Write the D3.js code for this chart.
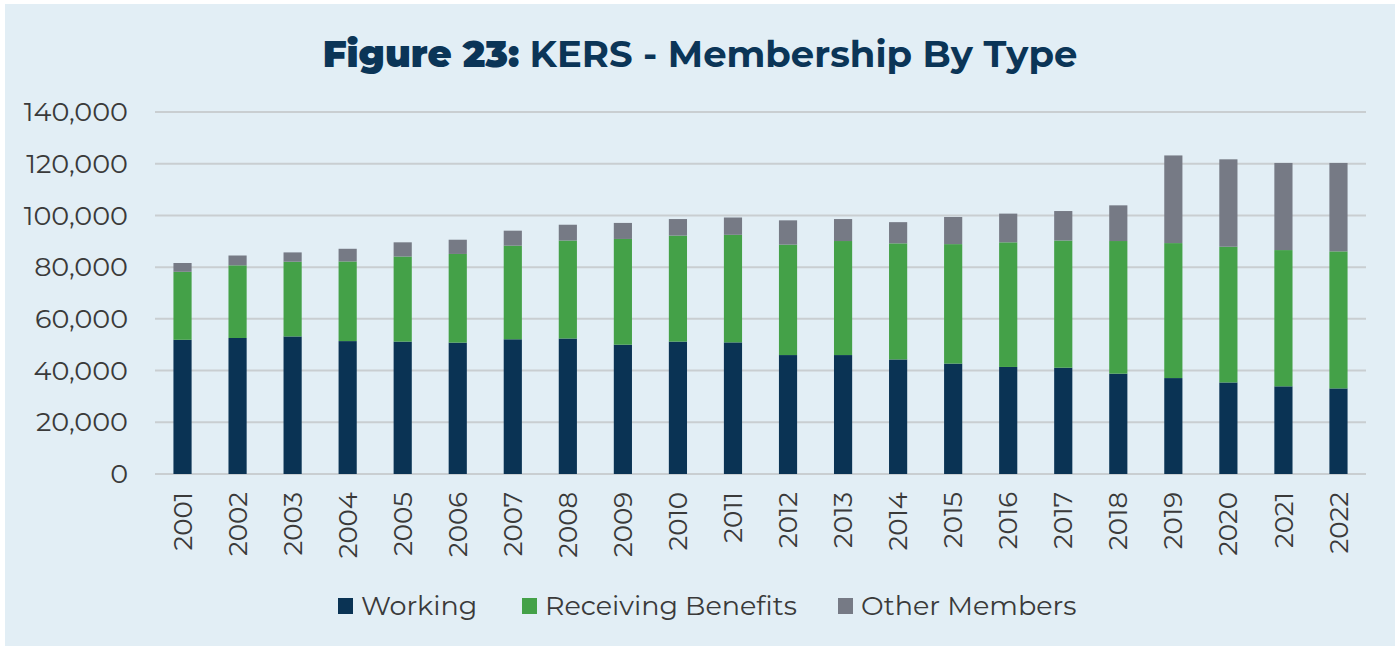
<!DOCTYPE html>
<html>
<head>
<meta charset="utf-8">
<script src="https://cdn.jsdelivr.net/npm/d3@7"></script>
<style>
  body { margin: 0; background: #ffffff; }
  svg { display: block; }
</style>
</head>
<body>
<svg id="chart" width="1400" height="647"></svg>
<script>
// categories
var years = ["2001","2002","2003","2004","2005","2006","2007","2008","2009","2010","2011",
             "2012","2013","2014","2015","2016","2017","2018","2019","2020","2021","2022"];

// series values (members)
var working = [51900,52600,53200,51400,51200,50800,52100,52400,50000,51200,50900,
               46000,46000,44300,42700,41400,41100,38800,37100,35400,33900,33100];
var receivingBenefits = [26300,28100,28900,30800,32900,34300,36200,37900,40900,41000,41600,
                         42700,44100,44900,46200,48200,49200,51300,52200,52500,52700,53000];
var otherMembers = [3400,3800,3600,4900,5500,5500,5800,6100,6200,6400,6700,
                    9400,8500,8200,10500,11100,11400,13800,33900,33800,33700,34200];

// tick labels
var yTicks = [0,20000,40000,60000,80000,100000,120000,140000];

var seriesNames = ["Working","Receiving Benefits","Other Members"];
var seriesColors = ["#0a3354","#44a148","#767a85"];

var svg = d3.select("#chart");
var font = "Montserrat, 'Noto Sans', sans-serif";

// panel background
svg.append("rect")
  .attr("x", 5).attr("y", 4)
  .attr("width", 1390).attr("height", 642)
  .attr("fill", "#e2eef5");

// title
var title = svg.append("text")
  .attr("x", 700).attr("y", 67)
  .attr("text-anchor", "middle")
  .attr("fill", "#0b3557")
  .style("font-family", font)
  .style("font-size", "37px")
  .style("font-weight", 700);
title.append("tspan").style("font-weight", 900).text("Figure 23:");
title.append("tspan").text(" KERS - Membership By Type");

var x = d3.scaleBand()
  .domain(years)
  .range([155, 1366])
  .paddingInner(0.67)
  .paddingOuter(0.335);

var y = d3.scaleLinear()
  .domain([0, 140000])
  .range([474, 112]);

// gridlines
svg.append("g")
  .selectAll("line")
  .data(yTicks)
  .join("line")
  .attr("x1", 155).attr("x2", 1366)
  .attr("y1", function(d) { return y(d); })
  .attr("y2", function(d) { return y(d); })
  .attr("stroke", "#c9ced1")
  .attr("stroke-width", 2);

// y axis labels
var yAxis = svg.append("g")
  .attr("transform", "translate(128,0)")
  .call(d3.axisLeft(y).tickValues(yTicks).tickSize(0).tickPadding(0).tickFormat(d3.format(",")));
yAxis.select(".domain").remove();
yAxis.selectAll("text")
  .attr("fill", "#3a3a3a")
  .style("font-family", font)
  .style("font-size", "27px");

// stacked data
var table = years.map(function(yr, i) {
  return { year: yr, "Working": working[i], "Receiving Benefits": receivingBenefits[i], "Other Members": otherMembers[i] };
});
var stacked = d3.stack().keys(seriesNames)(table);

svg.append("g")
  .selectAll("g")
  .data(stacked)
  .join("g")
  .attr("fill", function(d, i) { return seriesColors[i]; })
  .selectAll("rect")
  .data(function(d) { return d; })
  .join("rect")
  .attr("x", function(d) { return x(d.data.year); })
  .attr("width", x.bandwidth())
  .attr("y", function(d) { return y(d[1]); })
  .attr("height", function(d) { return y(d[0]) - y(d[1]); });

// x axis labels (rotated)
var xAxis = svg.append("g")
  .attr("transform", "translate(0,474)")
  .call(d3.axisBottom(x).tickSize(0).tickPadding(0));
xAxis.select(".domain").remove();
xAxis.selectAll("text")
  .attr("transform", "rotate(-90)")
  .attr("x", -18)
  .attr("y", 0)
  .attr("dy", "0.35em")
  .attr("text-anchor", "end")
  .attr("fill", "#3a3a3a")
  .style("font-family", font)
  .style("font-size", "26px");

// legend
var legendX = [338, 522, 838];
var legend = svg.append("g")
  .selectAll("g")
  .data(seriesNames)
  .join("g")
  .attr("transform", function(d, i) { return "translate(" + legendX[i] + ",606)"; });
legend.append("rect")
  .attr("x", 0).attr("y", -8)
  .attr("width", 15).attr("height", 16)
  .attr("fill", function(d, i) { return seriesColors[i]; });
legend.append("text")
  .attr("x", 23).attr("y", 0)
  .attr("dy", "0.35em")
  .attr("fill", "#3a3a3a")
  .style("font-family", font)
  .style("font-size", "27px")
  .text(function(d) { return d; });
</script>
</body>
</html>
